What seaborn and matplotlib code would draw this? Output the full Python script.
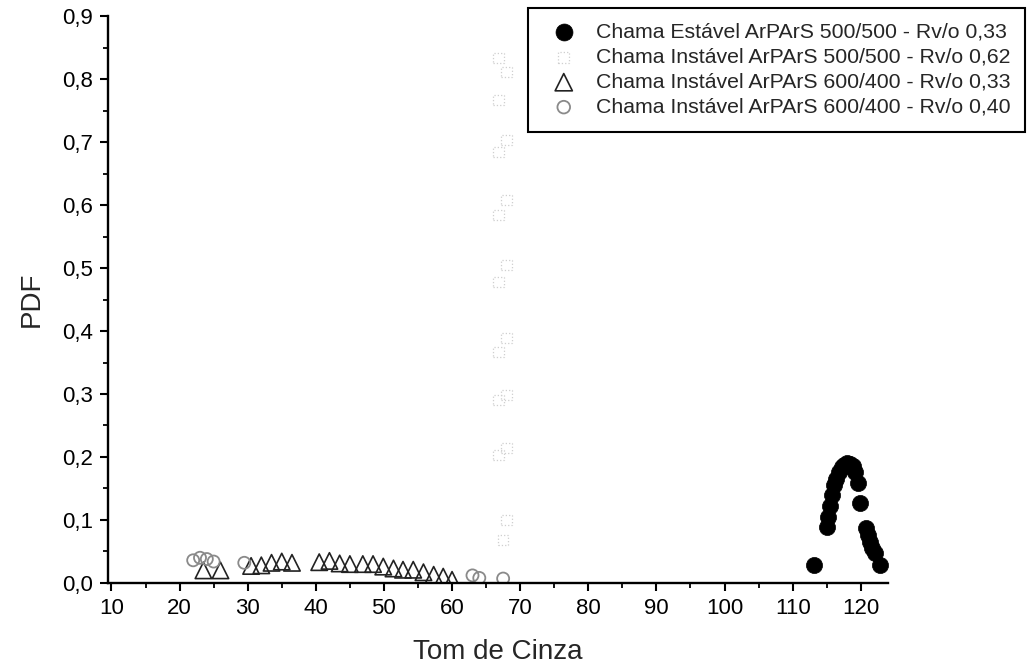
import matplotlib
matplotlib.use("Agg")
import matplotlib.pyplot as plt
import seaborn as sns
from matplotlib.ticker import MultipleLocator, FuncFormatter

# Chama Estável ArPArS 500/500 - Rv/o 0,33 (black filled circles)
est_x = [113.1, 115.0, 115.2, 115.5, 115.8, 116.1, 116.4, 116.8, 117.2, 117.6, 118.0,
         118.4, 118.8, 119.2, 119.6, 119.9, 120.8, 121.1, 121.4, 121.7, 122.1, 122.8]
est_y = [0.029, 0.089, 0.105, 0.122, 0.140, 0.155, 0.165, 0.176, 0.184, 0.188, 0.190,
         0.189, 0.185, 0.176, 0.158, 0.127, 0.087, 0.076, 0.065, 0.056, 0.047, 0.029]

# Chama Instável ArPArS 500/500 - Rv/o 0,62 (faint open squares)
inst62_x = [66.8, 68.0, 66.8, 68.0, 66.8, 68.0, 66.8, 68.0, 66.8, 68.0,
            66.8, 68.0, 66.8, 68.0, 66.8, 68.0, 67.5]
inst62_y = [0.833, 0.811, 0.767, 0.703, 0.684, 0.608, 0.584, 0.505, 0.478, 0.389,
            0.367, 0.298, 0.290, 0.214, 0.203, 0.100, 0.068]

# Chama Instável ArPArS 600/400 - Rv/o 0,33 (open triangles)
inst33_x = [23.5, 26.0, 30.5, 32.0, 33.5, 35.0, 36.5, 40.5, 42.0, 43.5, 45.0,
            46.9, 48.4, 49.9, 51.4, 52.8, 54.3, 55.8, 57.3, 58.7, 60.0]
inst33_y = [0.020, 0.020, 0.027, 0.028, 0.032, 0.034, 0.032, 0.033, 0.035, 0.031, 0.030,
            0.030, 0.030, 0.026, 0.023, 0.021, 0.021, 0.017, 0.013, 0.010, 0.005]

# Chama Instável ArPArS 600/400 - Rv/o 0,40 (grey circles)
inst40_x = [22.0, 23.0, 24.0, 25.0, 29.5, 63.0, 64.0, 67.5]
inst40_y = [0.036, 0.040, 0.038, 0.034, 0.032, 0.012, 0.008, 0.007]

xticks = list(range(10, 121, 10))


def comma_fmt(v, pos):
    return f"{v:.1f}".replace(".", ",")


sns.set_style("ticks")
plt.rcParams['font.family'] = ['Liberation Sans', 'DejaVu Sans']

fig, ax = plt.subplots(figsize=(10.29, 6.69), dpi=100)
fig.subplots_adjust(left=0.105, right=0.863, bottom=0.1286, top=0.976)

sns.scatterplot(x=est_x, y=est_y, ax=ax, marker='o', s=135, color='black',
                edgecolor='black', linewidth=0.5,
                label='Chama Estável ArPArS 500/500 - Rv/o 0,33')
sns.scatterplot(x=inst62_x, y=inst62_y, ax=ax, marker='s', s=55, facecolor='none',
                edgecolor='#cfcfcf', linewidth=0.9, linestyle=':',
                label='Chama Instável ArPArS 500/500 - Rv/o 0,62')
sns.scatterplot(x=inst33_x, y=inst33_y, ax=ax, marker='^', s=140, facecolor='none',
                edgecolor='#222222', linewidth=1.2,
                label='Chama Instável ArPArS 600/400 - Rv/o 0,33')
sns.scatterplot(x=inst40_x, y=inst40_y, ax=ax, marker='o', s=75, facecolor='none',
                edgecolor='#8a8a8a', linewidth=1.3,
                label='Chama Instável ArPArS 600/400 - Rv/o 0,40')

ax.set_xlim(9.5, 124)
ax.set_ylim(0, 0.9)
ax.set_xticks(xticks)
ax.xaxis.set_minor_locator(MultipleLocator(5))
ax.yaxis.set_major_locator(MultipleLocator(0.1))
ax.yaxis.set_minor_locator(MultipleLocator(0.05))
ax.yaxis.set_major_formatter(FuncFormatter(comma_fmt))

sns.despine(ax=ax)
for side in ['left', 'bottom']:
    ax.spines[side].set_linewidth(1.7)
    ax.spines[side].set_color('black')
ax.tick_params(which='major', direction='out', length=6, width=1.5,
               labelsize=16, colors='black', pad=5)
ax.tick_params(which='minor', direction='out', length=3.5, width=1.3, colors='black')

ax.set_xlabel('Tom de Cinza', fontsize=20, labelpad=14)
ax.set_ylabel('PDF', fontsize=20, labelpad=12)

ax.get_legend().remove()
handles, labels = ax.get_legend_handles_labels()
leg = fig.legend(handles, labels, loc='upper right',
                 bbox_to_anchor=(1025 / 1029, 1 - 8 / 669),
                 fontsize=15.3, frameon=True, fancybox=False,
                 edgecolor='black', framealpha=1, borderpad=0.7,
                 labelspacing=0.28, handletextpad=0.5, borderaxespad=0,
                 markerscale=1.05)
leg.get_frame().set_linewidth(1.5)

plt.savefig('out.png', dpi=100)
plt.close()
